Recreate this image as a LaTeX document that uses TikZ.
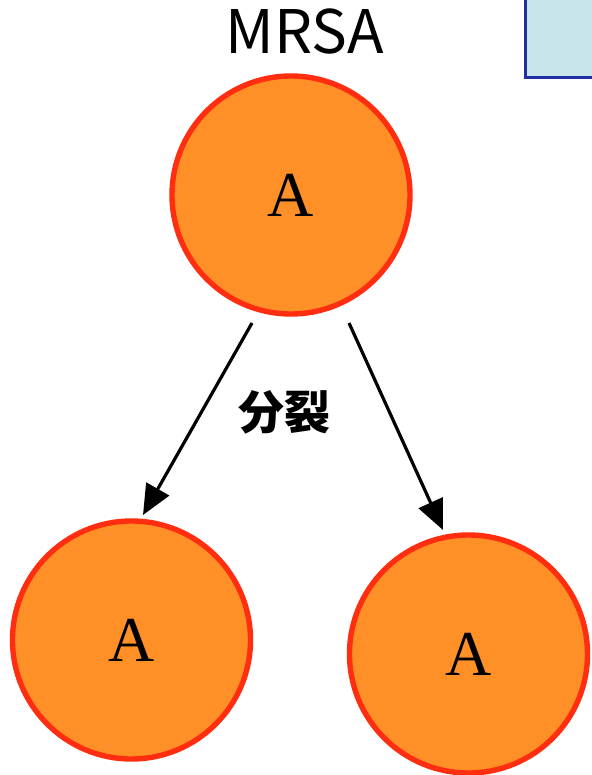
\documentclass[tikz,border=0pt]{standalone}
\usepackage{fontspec}
\setmainfont{Liberation Serif}
\newfontfamily\cjk{Noto Sans CJK JP}
\usepackage{tikz}
\usetikzlibrary{arrows.meta}

\definecolor{cellfill}{HTML}{FF9028}
\definecolor{cellrim}{HTML}{FF2E10}
\definecolor{notefill}{HTML}{C8E6EA}
\definecolor{noterim}{HTML}{1F2F9F}

\tikzset{
  cell/.style={circle,draw=cellrim,fill=cellfill,line width=2.7pt,
    minimum size=238*0.5pt,inner sep=0pt,font=\fontsize{32}{32}\selectfont},
  split/.style={-{Triangle[length=15pt,width=13pt]},line width=1.6pt}
}

\begin{document}
\begin{tikzpicture}[x=0.5pt,y=-0.5pt]
    \useasboundingbox (0,0) rectangle (592,775);
    % note box, cut by the page edge
    \draw[fill=notefill,draw=noterim,line width=1.5pt] (525,-10) rectangle (610,78);
    % mother cell and daughters
    \node[font=\cjk\fontsize{30}{30}\selectfont] (title) at (305,32) {MRSA};
    \node[cell] (mother) at (291,195) {A};
    \node[cell] (left) at (131.5,640) {A};
    \node[cell] (right) at (468.5,654) {A};
    \coordinate (ls) at (252,323);
    \coordinate (le) at (143,515);
    \coordinate (rs) at (349,323);
    \coordinate (re) at (443,530);
    \draw[split] (ls) -- (le);
    \draw[split] (rs) -- (re);
    \node[font=\cjk\bfseries\fontsize{23}{23}\selectfont] (lab) at (284,412) {分裂};
  \end{tikzpicture}
\end{document}
